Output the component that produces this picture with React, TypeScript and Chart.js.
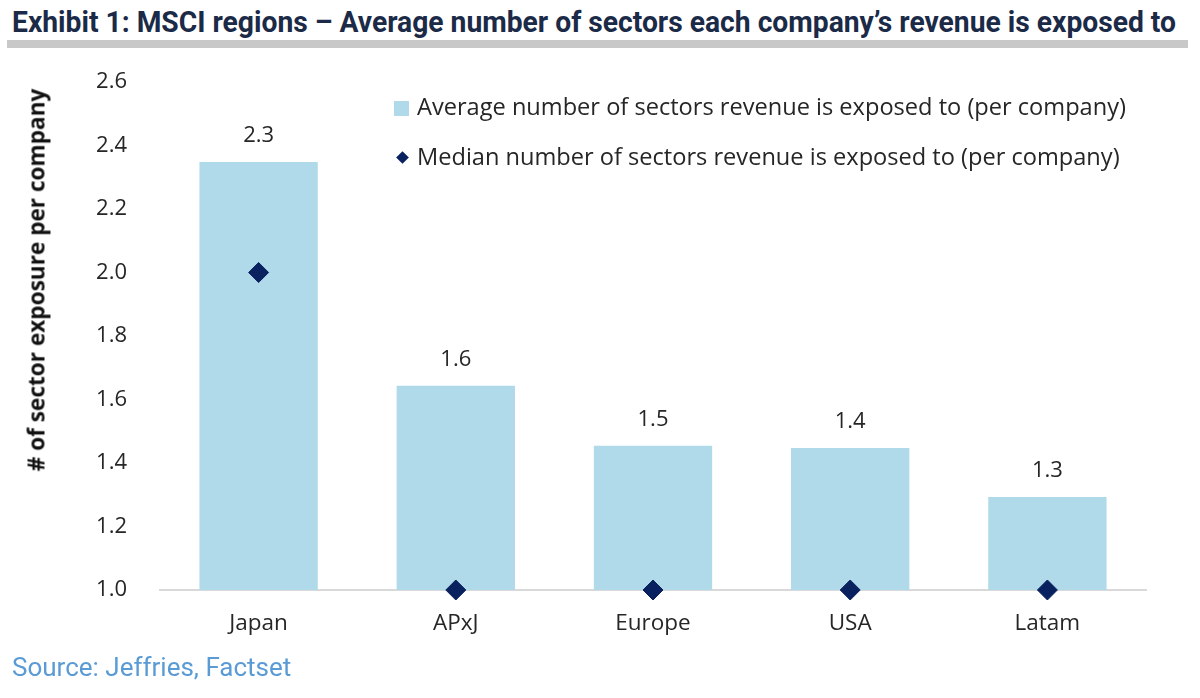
import React, { useEffect, useLayoutEffect, useRef } from "react";
import { Chart, registerables } from "chart.js";

Chart.register(...registerables);

const categories = ["Japan", "APxJ", "Europe", "USA", "Latam"];
const averageSectors = [2.348, 1.643, 1.454, 1.447, 1.293];
const medianSectors = [2.0, 1.0, 1.0, 1.0, 1.0];
const yMin = 1.0;
const yMax = 2.6;
const yStep = 0.2;

const TITLE = "Exhibit 1: MSCI regions \u2013 Average number of sectors each company\u2019s revenue is exposed to";
const LEGEND_AVG = "Average number of sectors revenue is exposed to (per company)";
const LEGEND_MED = "Median number of sectors revenue is exposed to (per company)";
const Y_TITLE = "# of sector exposure per company";
const SOURCE = "Source: Jeffries, Factset";

const BAR_COLOR = "#B0D9EA";
const DIAMOND_COLOR = "#0A2160";
const TEXT_COLOR = "#262626";
const FONT = "'Open Sans', 'DejaVu Sans', sans-serif";

const dataLabelPlugin = {
  id: "dataLabels",
  afterDatasetsDraw(chart: any) {
    const meta = chart.getDatasetMeta(1);
    const ctx = chart.ctx;
    ctx.save();
    ctx.font = `22px ${FONT}`;
    ctx.fillStyle = TEXT_COLOR;
    ctx.textAlign = "center";
    ctx.textBaseline = "alphabetic";
    meta.data.forEach((bar: any, i: number) => {
      const v = averageSectors[i];
      ctx.fillText(v.toFixed(1), bar.x, bar.y - 20);
    });
    ctx.restore();
  },
};

export default function App() {
  const canvasRef = useRef<HTMLCanvasElement | null>(null);
  const titleRef = useRef<HTMLDivElement | null>(null);

  useLayoutEffect(() => {
    const el = titleRef.current;
    if (!el) return;
    const fit = () => {
      el.style.transform = "none";
      const w = el.getBoundingClientRect().width;
      if (w > 0) el.style.transform = `scaleX(${1164 / w})`;
    };
    fit();
    (document as any).fonts?.ready?.then(fit);
  }, []);

  useEffect(() => {
    const canvas = canvasRef.current;
    if (!canvas) return;
    const chart = new Chart(canvas, {
      type: "bar",
      data: {
        labels: categories,
        datasets: [
          {
            type: "line",
            label: LEGEND_MED,
            data: medianSectors,
            showLine: false,
            clip: false,
            pointStyle: "rectRot",
            pointRadius: 10,
            pointBorderWidth: 1,
            backgroundColor: DIAMOND_COLOR,
            borderColor: DIAMOND_COLOR,
            order: 0,
          } as any,
          {
            type: "bar",
            label: LEGEND_AVG,
            data: averageSectors,
            backgroundColor: BAR_COLOR,
            borderWidth: 0,
            barPercentage: 0.6,
            categoryPercentage: 1.0,
            order: 1,
          },
        ],
      },
      options: {
        responsive: false,
        animation: false,
        devicePixelRatio: 1,
        layout: { padding: { top: 82, right: 54, bottom: 48, left: 0 } },
        plugins: {
          legend: { display: false },
          tooltip: { enabled: false },
          title: { display: false },
        },
        scales: {
          x: {
            grid: { display: false, drawTicks: false },
            border: { display: true, color: "#D9D9D9", width: 2 },
            ticks: {
              color: TEXT_COLOR,
              font: { family: FONT, size: 22.5 },
              padding: 20,
              maxRotation: 0,
            },
            afterFit: (s: any) => {
              s.height = 60;
            },
          },
          y: {
            min: yMin,
            max: yMax,
            grid: { display: false, drawTicks: false },
            border: { display: false },
            ticks: {
              stepSize: yStep,
              color: TEXT_COLOR,
              font: { family: FONT, size: 22 },
              padding: 33,
              callback: (v: any) => Number(v).toFixed(1),
            },
            afterFit: (s: any) => {
              s.width = 160;
            },
          },
        },
      },
      plugins: [dataLabelPlugin],
    });
    return () => chart.destroy();
  }, []);

  const legendText: React.CSSProperties = {
    position: "absolute",
    left: 417,
    fontFamily: FONT,
    fontSize: 23.6,
    lineHeight: "24px",
    color: TEXT_COLOR,
    whiteSpace: "nowrap",
  };

  return (
    <div
      style={{
        position: "fixed",
        left: 0,
        top: 0,
        width: 1200,
        height: 698,
        background: "#fff",
        overflow: "hidden",
      }}
    >
      <div
        ref={titleRef}
        style={{
          position: "absolute",
          left: 12,
          top: 7,
          fontFamily: "Roboto, sans-serif",
          fontWeight: 700,
          fontSize: 30,
          lineHeight: "30px",
          color: "#1B2A47",
          whiteSpace: "nowrap",
          transformOrigin: "left top",
        }}
      >
        {TITLE}
      </div>
      <div
        style={{
          position: "absolute",
          left: 7,
          top: 40,
          width: 1181,
          height: 8,
          background: "#C8C8C8",
        }}
      />
      <canvas
        ref={canvasRef}
        width={1200}
        height={698}
        style={{ position: "absolute", left: 0, top: 0, width: 1200, height: 698 }}
      />
      <div
        style={{
          position: "absolute",
          left: 36,
          top: 280,
          transform: "translate(-50%, -50%) rotate(-90deg)",
          fontFamily: FONT,
          fontWeight: 700,
          fontSize: 22.6,
          lineHeight: "23px",
          color: "#111",
          whiteSpace: "nowrap",
        }}
      >
        {Y_TITLE}
      </div>
      <div
        style={{
          position: "absolute",
          left: 394,
          top: 101,
          width: 15,
          height: 15,
          background: BAR_COLOR,
        }}
      />
      <div style={{ ...legendText, top: 94 }}>{LEGEND_AVG}</div>
      <div
        style={{
          position: "absolute",
          left: 398,
          top: 153,
          width: 9,
          height: 9,
          background: DIAMOND_COLOR,
          transform: "rotate(45deg)",
        }}
      />
      <div style={{ ...legendText, top: 144 }}>{LEGEND_MED}</div>
      <div
        style={{
          position: "absolute",
          left: 12,
          top: 654,
          fontFamily: "Roboto, sans-serif",
          fontSize: 26,
          lineHeight: "26px",
          color: "#5A9BD5",
          whiteSpace: "nowrap",
        }}
      >
        {SOURCE}
      </div>
    </div>
  );
}
